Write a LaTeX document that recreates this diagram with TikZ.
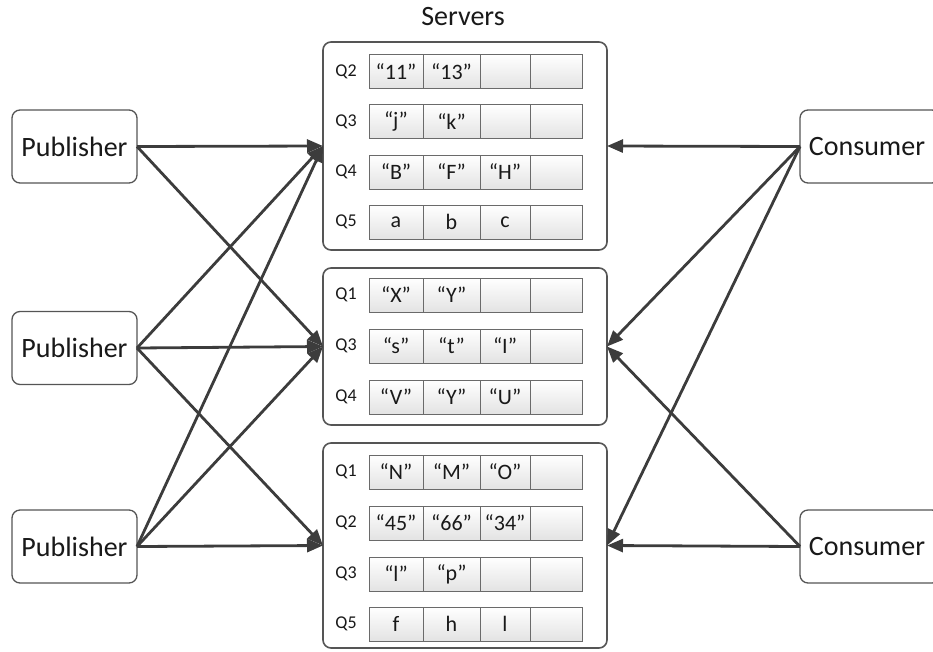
\documentclass[tikz,border=0pt]{standalone}
\usepackage{fontspec}
\setmainfont{Carlito}
\usetikzlibrary{arrows.meta}
\definecolor{edge}{HTML}{3C3C3C}
\definecolor{frame}{HTML}{555555}
\definecolor{cellline}{HTML}{6A6A6A}
\tikzset{
 actor/.style={draw=frame, line width=1.3pt, rounded corners=8pt, fill=white, minimum height=73pt, font=\fontsize{28}{30}\selectfont, inner sep=0pt, outer sep=0pt, text=black!90},
 server/.style={draw=frame, line width=1.6pt, rounded corners=8pt, fill=white, inner sep=0pt, outer sep=0pt, minimum width=284pt},
 cell/.style={draw=cellline, line width=0.9pt, top color=white, bottom color=black!11, minimum height=34pt, inner sep=0pt, outer sep=0pt, font=\fontsize{22}{24}\selectfont, anchor=west, text=black!90},
 qlab/.style={font=\fontsize{18}{20}\selectfont, text=black!90},
 link/.style={draw=edge, line width=2.8pt, -{Triangle[length=16pt,width=13pt]}},
 title/.style={font=\fontsize{28}{30}\selectfont, text=black!90}
}
\newcommand\qrowdraw[6]{%
 \node[qlab] (#1q) at (346,#2) {#3};
 \node[cell, minimum width=54pt] (#1a) at (369,#2) {#4};
 \node[cell, minimum width=57pt] (#1b) at (423,#2) {#5};
 \node[cell, minimum width=50pt] (#1c) at (480,#2) {#6};
 \node[cell, minimum width=52pt] (#1d) at (530,#2) {};
}
\begin{document}
\begin{tikzpicture}[x=1pt,y=-1pt]
\useasboundingbox (0,0) rectangle (933,651);
% actors
\node[actor, minimum width=125pt] (p1) at (74.5,146.5) {Publisher};
\node[actor, minimum width=125pt] (p2) at (74.5,348) {Publisher};
\node[actor, minimum width=125pt] (p3) at (74.5,546.5) {Publisher};
\node[actor, minimum width=140pt] (c1) at (870,146.5) {\hspace*{-6pt}Consumer};
\node[actor, minimum width=140pt] (c2) at (870,546.5) {\hspace*{-6pt}Consumer};
% servers
\node[title] (ttl) at (463,17) {Servers};
\node[server, minimum height=208pt] (s1) at (465,146) {};
\node[server, minimum height=157pt] (s2) at (465,346.5) {};
\node[server, minimum height=205pt] (s3) at (465,545.5) {};
% server 1
\qrowdraw{sa1}{71.5}{Q2}{“11”}{“13”}{}
\qrowdraw{sa2}{121.5}{Q3}{“j”}{“k”}{}
\qrowdraw{sa3}{172}{Q4}{“B”}{“F”}{“H”}
\qrowdraw{sa4}{222}{Q5}{a}{b}{c}
% server 2
\qrowdraw{sb1}{295}{Q1}{“X”}{“Y”}{}
\qrowdraw{sb2}{346}{Q3}{“s”}{“t”}{“I”}
\qrowdraw{sb3}{397}{Q4}{“V”}{“Y”}{“U”}
% server 3
\qrowdraw{sc1}{472}{Q1}{“N”}{“M”}{“O”}
\qrowdraw{sc2}{523}{Q2}{“45”}{“66”}{“34”}
\qrowdraw{sc3}{574}{Q3}{“l”}{“p”}{}
\qrowdraw{sc4}{624}{Q5}{f}{h}{l}
% connectors
\draw[link] (p1.east) -- (s1.west);
\draw[link] (p1.east) -- (s2.west);
\draw[link] (p2.east) -- (s1.west);
\draw[link] (p2.east) -- (s2.west);
\draw[link] (p2.east) -- (s3.west);
\draw[link] (p3.east) -- (s1.west);
\draw[link] (p3.east) -- (s2.west);
\draw[link] (p3.east) -- (s3.west);
\draw[link] (c1.west) -- (s1.east);
\draw[link] (c1.west) -- (s2.east);
\draw[link] (c1.west) -- (s3.east);
\draw[link] (c2.west) -- (s2.east);
\draw[link] (c2.west) -- (s3.east);
\end{tikzpicture}
\end{document}
